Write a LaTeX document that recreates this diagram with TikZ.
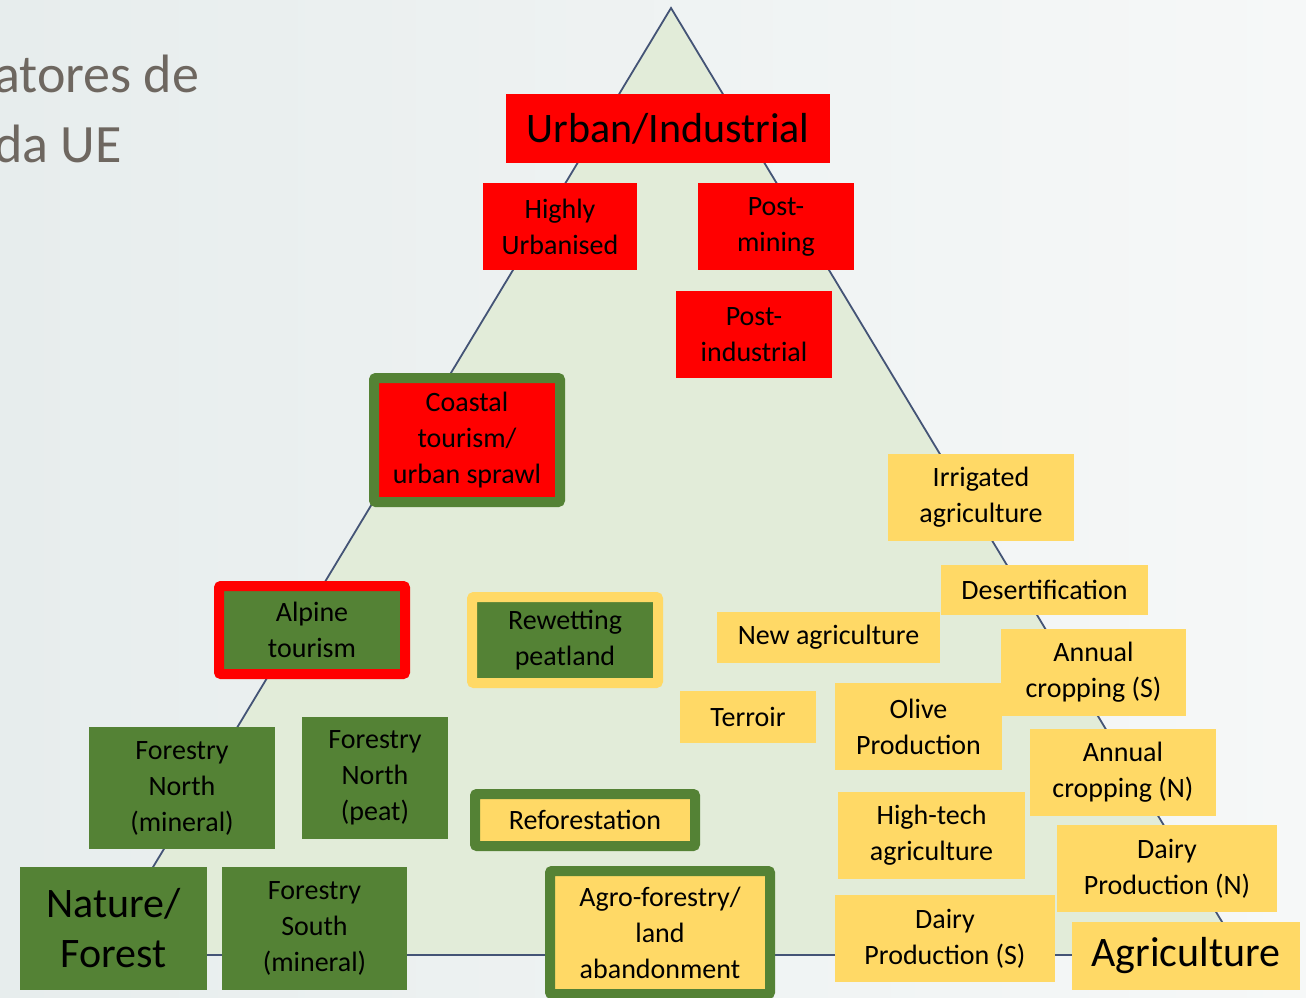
\documentclass[tikz,border=0pt]{standalone}
\usepackage{fontspec}
\setmainfont{Carlito}
\usepackage{tikz}
\usetikzlibrary{positioning}
\definecolor{urbred}{RGB}{255, 0, 0}
\definecolor{natgreen}{RGB}{84, 130, 53}
\definecolor{agriyellow}{RGB}{255, 217, 102}
\definecolor{trifill}{RGB}{226, 236, 217}
\definecolor{triline}{RGB}{68, 84, 118}
\definecolor{titlegray}{RGB}{110, 103, 96}
\definecolor{bgleft}{RGB}{231, 237, 237}
\definecolor{bgright}{RGB}{246, 248, 248}

\tikzset{
  cell/.style={inner sep=0pt, align=center, text=black, font=\fontsize{28}{36}\selectfont},
  bigcell/.style={font=\fontsize{42}{50}\selectfont},
  redcell/.style={cell, fill=urbred},
  grncell/.style={cell, fill=natgreen},
  yelcell/.style={cell, fill=agriyellow},
  rim/.style={draw=#1, line width=10pt, rounded corners=2pt},
  size/.style 2 args={minimum width=#1pt, minimum height=#2pt},
}

\begin{document}
\begin{tikzpicture}[x=1pt, y=-1pt]
	\useasboundingbox (0,0) rectangle (1306,997);
	\shade[left color=bgleft, right color=bgright] (0,0) rectangle (1306,997);

	% slide title (cut at the left)
	\node[anchor=base west, inner sep=0pt, text=titlegray, font=\fontsize{54}{70}\selectfont] (title1) at (-6,92) {atores de};
	\node[anchor=base west, inner sep=0pt, text=titlegray, font=\fontsize{54}{70}\selectfont] (title2) at (-6,162) {da UE};

	% the triangle
	\coordinate (apex) at (671,8);
	\coordinate (bl) at (100,955);
	\coordinate (br) at (1242,955);
	\fill[trifill] (apex)--(bl)--(br)--cycle;
	\draw[triline, line width=1.8pt, line join=miter] (apex)--(bl)--(br)--cycle;

	% urban / industrial corner
	\node[redcell, bigcell, size={324}{69}] (urban) at (668,128.5) {Urban/Industrial};
	\node[redcell, size={154}{87}] (highly) at (560,226.5) {Highly\\Urbanised};
	\node[redcell, size={156}{87}] (postmin) at (776,226.5) {Post-\\mining};
	\node[redcell, size={156}{87}] (postind) at (754,334.5) {Post-\\industrial};
	\node[redcell, rim=natgreen, size={186}{124}] (coastal) at (467,440) {Coastal\\tourism/\\urban sprawl};

	% nature / forest corner
	\node[grncell, rim=urbred, size={186}{88}] (alpine) at (312,630) {Alpine\\tourism};
	\node[grncell, rim=agriyellow, size={186}{86}] (rewet) at (565,640) {Rewetting\\peatland};
	\node[grncell, size={186}{122}] (fnmin) at (182,788) {Forestry\\North\\(mineral)};
	\node[grncell, size={146}{122}] (fnpeat) at (375,778) {Forestry\\North\\(peat)};
	\node[yelcell, rim=natgreen, size={220}{52}] (refor) at (585,820) {Reforestation};
	\node[grncell, bigcell, size={187}{123}] (nature) at (113.5,928.5) {Nature/\\Forest};
	\node[grncell, size={185}{123}] (fsmin) at (314.5,928.5) {Forestry\\South\\(mineral)};
	\node[yelcell, rim=natgreen, size={220}{123}] (agro) at (660,932.5) {Agro-forestry/\\land\\abandonment};

	% agriculture corner
	\node[yelcell, size={186}{87}] (irrig) at (981,497.5) {Irrigated\\agriculture};
	\node[yelcell, size={223}{51}] (newagri) at (828.5,637.5) {New agriculture};
	\node[yelcell, size={207}{50}] (desert) at (1044.5,590) {Desertification};
	\node[yelcell, size={136}{52}] (terroir) at (748,717) {Terroir};
	\node[yelcell, size={167}{87}] (olive) at (918.5,726.5) {Olive\\Production};
	\node[yelcell, size={185}{87}] (annS) at (1093.5,672.5) {Annual\\cropping (S)};
	\node[yelcell, size={186}{87}] (annN) at (1123,772.5) {Annual\\cropping (N)};
	\node[yelcell, size={187}{87}] (hitech) at (931.5,835.5) {High-tech\\agriculture};
	\node[yelcell, size={220}{87}] (dairyN) at (1167,868.5) {Dairy\\Production (N)};
	\node[yelcell, size={220}{87}] (dairyS) at (945,938.5) {Dairy\\Production (S)};
	\node[yelcell, bigcell, size={228}{68}] (agri) at (1186,956) {Agriculture};
\end{tikzpicture}
\end{document}
